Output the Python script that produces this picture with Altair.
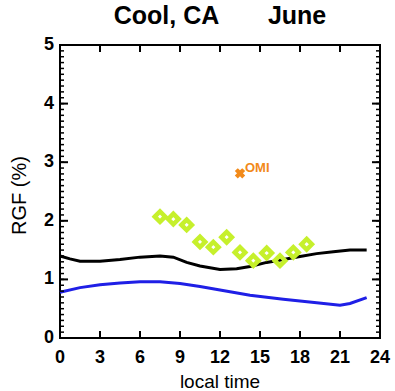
import altair as alt
import pandas as pd

# ---- data ----
black_hours = [0, 0.75, 1.5, 3, 4.5, 6, 7.5, 8.5, 9.5, 10.5, 12, 13.25, 14.25, 15.5, 16.75, 18, 19.25, 20.5, 21.75, 23]
black_vals = [1.40, 1.35, 1.31, 1.31, 1.34, 1.38, 1.40, 1.38, 1.29, 1.23, 1.17, 1.18, 1.22, 1.29, 1.34, 1.39, 1.44, 1.47, 1.50, 1.50]

blue_hours = [0, 1.5, 3, 4.5, 6, 7.5, 9, 10.5, 12, 13.5, 14.25, 16.75, 19.25, 21, 21.75, 23]
blue_vals = [0.78, 0.86, 0.91, 0.94, 0.96, 0.96, 0.93, 0.88, 0.82, 0.76, 0.73, 0.66, 0.60, 0.56, 0.59, 0.69]

obs_hours = [7.5, 8.5, 9.5, 10.5, 11.5, 12.5, 13.5, 14.5, 15.5, 16.5, 17.5, 18.5]
obs_vals = [2.07, 2.03, 1.93, 1.64, 1.55, 1.72, 1.46, 1.32, 1.45, 1.32, 1.46, 1.60]

omi_hour = [13.5]
omi_val = [2.81]
omi_label = ["OMI"]

x_major = [0, 3, 6, 9, 12, 15, 18, 21, 24]
x_labels = ["0", "3", "6", "9", "12", "15", "18", "21", "24"]
y_major = [0, 1, 2, 3, 4, 5]
y_labels = ["0", "1", "2", "3", "4", "5"]
y_minor = [i / 10 for i in range(0, 51)]

x_title = ["local time"]
y_title = ["RGF (%)"]

# ---- tables ----
lines_df = pd.concat([
    pd.DataFrame({"hour": black_hours, "rgf": black_vals, "series": "model_black"}),
    pd.DataFrame({"hour": blue_hours, "rgf": blue_vals, "series": "model_blue"}),
])
obs_df = pd.DataFrame({"hour": obs_hours, "rgf": obs_vals})
omi_df = pd.DataFrame({"hour": omi_hour, "rgf": omi_val, "label": omi_label})
xmaj_df = pd.DataFrame({"hour": x_major, "label": x_labels})
ymaj_df = pd.DataFrame({"rgf": y_major, "label": y_labels})
ymin_df = pd.DataFrame({"rgf": y_minor})
xt_df = pd.DataFrame({"t": x_title})
yt_df = pd.DataFrame({"t": y_title})

FONT = "Liberation Sans"
W, H = 320, 293
xs = alt.Scale(domain=[0, 24], nice=False, zero=False)
ys = alt.Scale(domain=[0, 5], nice=False, zero=True)


def X(field):
    return alt.X(f"{field}:Q", scale=xs, axis=None)


def Y(field):
    return alt.Y(f"{field}:Q", scale=ys, axis=None)


lines = alt.Chart(lines_df).mark_line(strokeWidth=3).encode(
    x=X("hour"), y=Y("rgf"),
    color=alt.Color("series:N", scale=alt.Scale(domain=["model_black", "model_blue"],
                                                range=["#000000", "#1f1fe6"]), legend=None),
)

obs = alt.Chart(obs_df).mark_point(shape="diamond", filled=False, strokeWidth=4.5,
                                   size=110, color="#c6f02c", opacity=1).encode(
    x=X("hour"), y=Y("rgf"),
)

omi_pt = alt.Chart(omi_df).mark_point(shape="cross", angle=45, filled=True, size=110,
                                      color="#f28a1a", opacity=1).encode(
    x=X("hour"), y=Y("rgf"),
)
omi_txt = alt.Chart(omi_df).mark_text(align="left", baseline="bottom", dx=5, dy=2,
                                      font=FONT, fontSize=13, fontWeight="bold",
                                      color="#f28a1a").encode(
    x=X("hour"), y=Y("rgf"), text="label:N",
)


# inward frame ticks: positions along the frame come from the scales,
# the tick length is a fixed pixel style
def xticks(edge, length):
    return alt.Chart(xmaj_df).mark_rule(strokeWidth=2, color="black").encode(
        x=X("hour"), y=alt.value(edge), y2=alt.value(edge + length),
    )


def yticks(df, edge, length, width):
    return alt.Chart(df).mark_rule(strokeWidth=width, color="black").encode(
        y=Y("rgf"), x=alt.value(edge), x2=alt.value(edge + length),
    )


tick_layers = [
    xticks(H, -7),
    xticks(0, 7),
    yticks(ymin_df, 0, 4, 1.5),
    yticks(ymaj_df, 0, 8, 2),
    yticks(ymin_df, W, -4, 1.5),
    yticks(ymaj_df, W, -8, 2),
]

# tick labels and axis titles
x_lab = alt.Chart(xmaj_df).mark_text(align="center", baseline="top", font=FONT,
                                     fontSize=18, fontWeight="bold", color="black").encode(
    x=X("hour"), y=alt.value(H + 11), text="label:N")
y_lab = alt.Chart(ymaj_df).mark_text(align="right", baseline="middle", font=FONT,
                                     fontSize=18, fontWeight="bold", color="black").encode(
    y=Y("rgf"), x=alt.value(-6), text="label:N")
x_tit = alt.Chart(xt_df).mark_text(align="center", baseline="alphabetic", font=FONT,
                                   fontSize=19, color="black").encode(
    x=alt.value(W / 2), y=alt.value(H + 50), text="t:N")
y_tit = alt.Chart(yt_df).mark_text(align="center", baseline="middle", angle=270, font=FONT,
                                   fontSize=20, color="black").encode(
    x=alt.value(-40), y=alt.value(H / 2 + 4), text="t:N")

chart = alt.layer(
    lines, *tick_layers, obs, omi_pt, omi_txt, x_lab, y_lab, x_tit, y_tit,
).properties(
    width=W, height=H,
    title=alt.TitleParams("Cool, CA\u00a0\u00a0\u00a0\u00a0\u00a0\u00a0 June", font=FONT,
                          fontSize=25, fontWeight="bold", color="black", offset=7,
                          anchor="middle"),
    autosize=alt.AutoSizeParams(type="none"),
    padding={"left": 60, "top": 45, "right": 15, "bottom": 53},
    background="white",
).configure_view(stroke="black", strokeWidth=2)

chart.save("out.html", embed_options={"renderer": "svg", "actions": False})
